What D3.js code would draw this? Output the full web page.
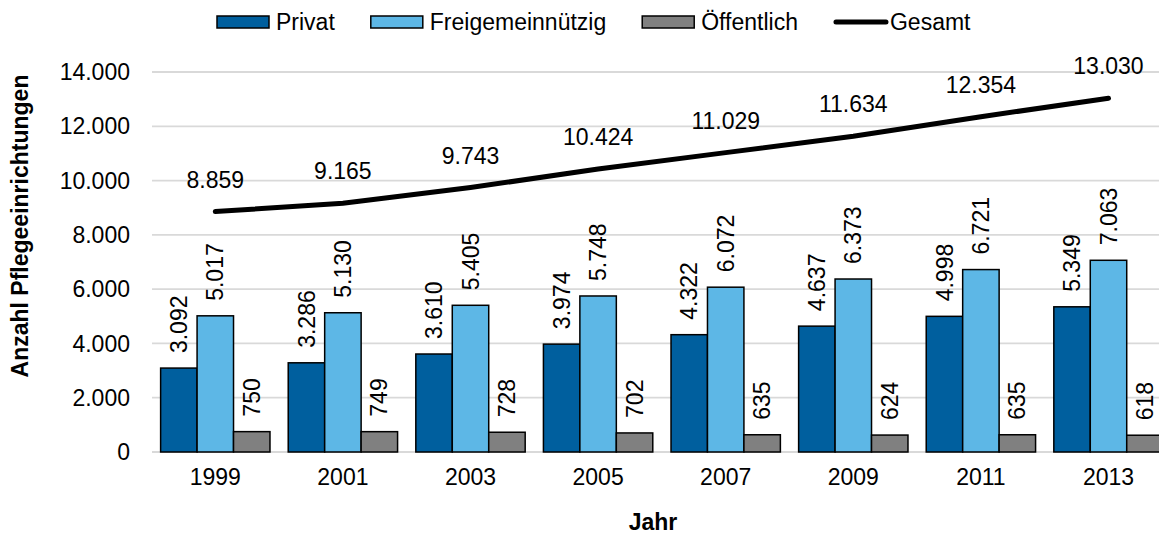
<!DOCTYPE html>
<html>
<head>
<meta charset="utf-8">
<script src="https://cdn.jsdelivr.net/npm/d3@7"></script>
<style>
  html, body { margin: 0; padding: 0; background: #fff; }
  svg { display: block; font-family: "Liberation Sans", Arial, sans-serif; }
</style>
</head>
<body>
<svg id="chart" width="1159" height="538"></svg>
<script>
const years = ["1999", "2001", "2003", "2005", "2007", "2009", "2011", "2013"];
const privat = [3092, 3286, 3610, 3974, 4322, 4637, 4998, 5349];
const freigemeinnuetzig = [5017, 5130, 5405, 5748, 6072, 6373, 6721, 7063];
const oeffentlich = [750, 749, 728, 702, 635, 624, 635, 618];
const gesamt = [8859, 9165, 9743, 10424, 11029, 11634, 12354, 13030];
const yTicks = [0, 2000, 4000, 6000, 8000, 10000, 12000, 14000];
const seriesNames = ["Privat", "Freigemeinnützig", "Öffentlich"];
const seriesColors = ["#005F9E", "#5DB7E6", "#808080"];
const lineName = "Gesamt";

const fmt = v => d3.format(",")(v).replace(/,/g, ".");

const svg = d3.select("#chart");
const W = 1159, H = 538;
const x0 = d3.scaleBand().domain(years).range([151.5, 1172.3]).paddingInner(0.143).paddingOuter(0.0715);
const x1 = d3.scaleBand().domain(seriesNames).range([0, x0.bandwidth()]);
const y = d3.scaleLinear().domain([0, 14000]).range([452, 72]);

const series = [privat, freigemeinnuetzig, oeffentlich];

// gridlines
const grid = svg.append("g");
grid.selectAll("line").data(yTicks).join("line")
  .attr("x1", 152).attr("x2", W)
  .attr("y1", d => y(d)).attr("y2", d => y(d))
  .attr("stroke", "#D9D9D9").attr("stroke-width", 1.8);

// y axis labels
const yAxis = d3.axisLeft(y).tickValues(yTicks).tickFormat(fmt).tickSize(0).tickPadding(0);
const ya = svg.append("g").attr("transform", "translate(130,0)").call(yAxis);
ya.select(".domain").remove();
ya.selectAll("text").attr("font-size", 23).attr("fill", "#000").attr("font-family", "Liberation Sans, Arial, sans-serif").attr("dy", "0.33em");

// x axis labels
const xAxis = d3.axisBottom(x0).tickSize(0).tickPadding(0);
const xa = svg.append("g").attr("transform", "translate(0,485)").call(xAxis);
xa.select(".domain").remove();
xa.selectAll("text").attr("font-size", 23).attr("fill", "#000").attr("font-family", "Liberation Sans, Arial, sans-serif").attr("dy", 0);

// bars
const groups = svg.append("g").selectAll("g").data(years).join("g")
  .attr("transform", d => `translate(${x0(d)},0)`);
groups.each(function(yr, i) {
  const g = d3.select(this);
  seriesNames.forEach((s, j) => {
    const v = series[j][i];
    g.append("rect")
      .attr("x", x1(s)).attr("width", x1.bandwidth())
      .attr("y", y(v)).attr("height", y(0) - y(v))
      .attr("fill", seriesColors[j]).attr("stroke", "#000").attr("stroke-width", 1.5);
    const cx = x1(s) + x1.bandwidth() / 2;
    const ty = y(v) - 15;
    g.append("text")
      .attr("transform", `translate(${cx},${ty}) rotate(-90)`)
      .attr("dy", "0.35em")
      .attr("font-size", 23).attr("fill", "#000")
      .text(fmt(v));
  });
});

// line
const lx = d => x0(d) + x0.bandwidth() / 2;
const line = d3.line().x((d, i) => lx(years[i])).y(d => y(d));
svg.append("path").datum(gesamt)
  .attr("d", line).attr("fill", "none")
  .attr("stroke", "#000").attr("stroke-width", 5).attr("stroke-linecap", "round");
svg.append("g").selectAll("text").data(gesamt).join("text")
  .attr("x", (d, i) => lx(years[i])).attr("y", d => y(d) - 24)
  .attr("text-anchor", "middle").attr("font-size", 23).attr("fill", "#000")
  .text(d => fmt(d));

// axis titles
svg.append("text")
  .attr("transform", "translate(28,226) rotate(-90)")
  .attr("text-anchor", "middle").attr("font-size", 23).attr("font-weight", "bold")
  .text("Anzahl Pflegeeinrichtungen");
svg.append("text")
  .attr("x", 653).attr("y", 530)
  .attr("text-anchor", "middle").attr("font-size", 23).attr("font-weight", "bold")
  .text("Jahr");

// legend
const legend = svg.append("g");
let lxPos = 217;
const items = seriesNames.map((s, j) => ({name: s, color: seriesColors[j], type: "rect"}))
  .concat([{name: lineName, color: "#000", type: "line"}]);
items.forEach(it => {
  if (it.type === "rect") {
    legend.append("rect").attr("x", lxPos).attr("y", 16).attr("width", 52).attr("height", 12)
      .attr("fill", it.color).attr("stroke", "#000").attr("stroke-width", 1.5);
  } else {
    legend.append("line").attr("x1", lxPos + 2).attr("x2", lxPos + 52).attr("y1", 22).attr("y2", 22)
      .attr("stroke", "#000").attr("stroke-width", 5).attr("stroke-linecap", "round");
  }
  const t = legend.append("text").attr("x", lxPos + (it.type === "rect" ? 59 : 56)).attr("y", 30)
    .attr("font-size", 23).attr("fill", "#000").text(it.name);
  lxPos = lxPos + (it.type === "rect" ? 59 : 56) + t.node().getComputedTextLength() + 36;
});
</script>
</body>
</html>
